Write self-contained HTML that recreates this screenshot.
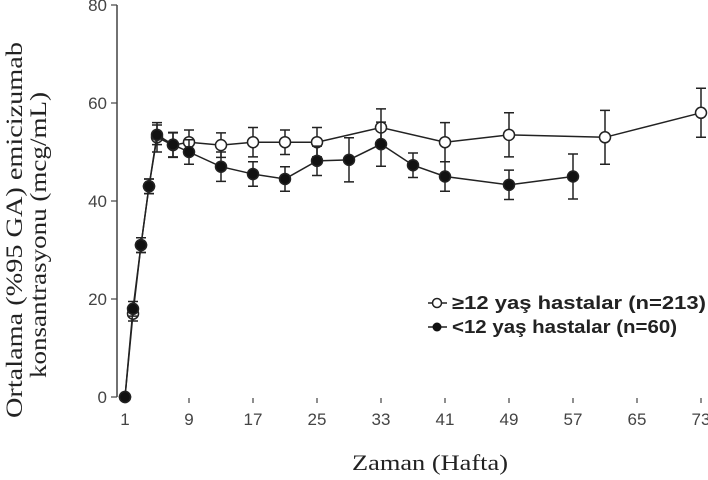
<!DOCTYPE html>
<html><head><meta charset="utf-8"><style>
body{margin:0;background:#fff;width:708px;height:475px;overflow:hidden}
svg text{fill:#222}
</style></head><body>
<svg width="708" height="475" xmlns="http://www.w3.org/2000/svg">
<g id="axes"></g>
<g id="series"></g>
<text x="430" y="470" text-anchor="middle" font-family="Liberation Serif, serif" font-size="22" textLength="156" lengthAdjust="spacingAndGlyphs">Zaman (Hafta)</text>
<g transform="translate(22,230) rotate(-90)">
<text x="0" y="0" text-anchor="middle" font-family="Liberation Serif, serif" font-size="23" textLength="376" lengthAdjust="spacingAndGlyphs">Ortalama (%95 GA) emicizumab</text>
<text x="-5" y="24" text-anchor="middle" font-family="Liberation Serif, serif" font-size="23" textLength="286" lengthAdjust="spacingAndGlyphs">konsantrasyonu (mcg/mL)</text>
</g>
<g font-family="Liberation Sans, sans-serif" font-size="18" font-weight="bold">
<g>
<line x1="428" y1="303" x2="447" y2="303" stroke="#222" stroke-width="1.5"/>
<circle cx="437" cy="303" r="4.5" fill="#fff" stroke="#222" stroke-width="1.5"/>
<text x="452" y="309" textLength="254" lengthAdjust="spacingAndGlyphs">≥12 yaş hastalar (n=213)</text></g>
<g>
<line x1="428" y1="327" x2="447" y2="327" stroke="#222" stroke-width="1.5"/>
<circle cx="437" cy="327" r="4.5" fill="#111"/>
<text x="452" y="333" textLength="225" lengthAdjust="spacingAndGlyphs">&lt;12 yaş hastalar (n=60)</text></g>
</g>
</svg>
<script>
const xTicks=[1,9,17,25,33,41,49,57,65,73];
const yTicks=[0,20,40,60,80];
const olderWeeks=[1,2,3,4,5,7,9,13,17,21,25,33,41,49,61,73];
const olderVals=[0,17,31,43,53,51.4,52,51.4,52,52,52,55,52,53.5,53,58];
const olderErr=[0,1.5,1.5,1.5,3,2.5,2.5,2.5,3,2.5,3,3.8,4,4.5,5.5,5];
const youngWeeks=[1,2,3,4,5,7,9,13,17,21,25,29,33,37,41,49,57];
const youngVals=[0,18,31,43,53.5,51.5,50,47,45.5,44.5,48.2,48.4,51.6,47.3,45,43.3,45];
const youngErr=[0,1.5,1.5,1.5,2,2.5,2.5,3,2.5,2.5,3,4.5,4.5,2.5,3,3,4.6];
const NS='http://www.w3.org/2000/svg';
const X=w=>125+(w-1)*8;
const Y=v=>397-v*4.9;
function mk(p,tag,at){const e=document.createElementNS(NS,tag);for(const k in at)e.setAttribute(k,at[k]);p.appendChild(e);return e;}
const ax=document.getElementById('axes');
const yl=mk(ax,'line',{x1:117,y1:Y(80),x2:117,y2:Y(0),stroke:'#444','stroke-width':1.5});


yTicks.forEach(v=>{
 mk(ax,'line',{x1:111,y1:Y(v),x2:117,y2:Y(v),stroke:'#444','stroke-width':1.2});
 const t=mk(ax,'text',{x:107,y:Y(v)+6,'text-anchor':'end','font-family':'Liberation Sans, sans-serif','font-size':17,style:'fill:#444'});
 t.textContent=v;
 
 
});
xTicks.forEach(w=>{
 mk(ax,'line',{x1:X(w),y1:398,x2:X(w),y2:403,stroke:'#444','stroke-width':1.2});
 const t=mk(ax,'text',{x:X(w),y:425,'text-anchor':'middle','font-family':'Liberation Sans, sans-serif','font-size':17,style:'fill:#444'});
 t.textContent=w;
 
 
});
const sg=document.getElementById('series');
function series(weeks,vals,errs,filled,name){
 const g=mk(sg,'g',{});
 
 
 const pts=weeks.map((w,i)=>X(w)+','+Y(vals[i])).join(' ');
 mk(g,'polyline',{points:pts,fill:'none',stroke:'#222','stroke-width':1.5});
 weeks.forEach((w,i)=>{
  const x=X(w),e=errs[i];
  if(e>0){
   const eb=mk(g,'path',{d:`M${x},${Y(vals[i]+e)}V${Y(vals[i]-e)}M${x-5},${Y(vals[i]+e)}H${x+5}M${x-5},${Y(vals[i]-e)}H${x+5}`,stroke:'#222','stroke-width':1.5,fill:'none'});
   
   
  }
  const c=mk(g,'circle',{cx:x,cy:Y(vals[i]),r:5.5,fill:filled?'#111':'#fff',stroke:'#222','stroke-width':1.5});
  
  
 });
}
series(olderWeeks,olderVals,olderErr,false,'series-older');
series(youngWeeks,youngVals,youngErr,true,'series-younger');
</script>
</body></html>
